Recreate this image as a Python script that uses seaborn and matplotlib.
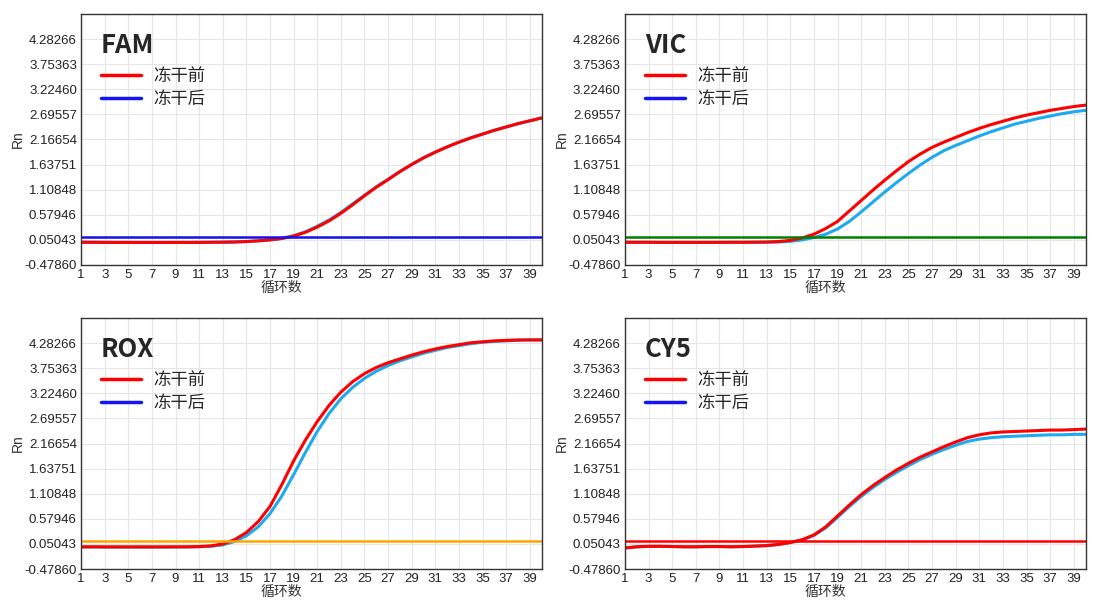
import seaborn as sns
import matplotlib.pyplot as plt
import pandas as pd
from matplotlib.lines import Line2D

# x axis: PCR cycles, y axis: Rn
cycles = list(range(1, 41))
x_ticks = list(range(1, 40, 2))
y_ticks = [-0.47860, 0.05043, 0.57946, 1.10848, 1.63751, 2.16654, 2.69557, 3.22460, 3.75363, 4.28266]
y_top = 4.81169

channels = ["FAM", "VIC", "ROX", "CY5"]
thresholds = [0.11, 0.11, 0.12, 0.12]
threshold_colors = ["#1010ee", "#008000", "#ffa500", "#ff0000"]

# 冻干前 (before freeze-drying)
fam_before = [0.0, 0.0, -0.002, -0.003, -0.003, -0.004, -0.004, -0.004, -0.003, -0.003, -0.002, 0.0, 0.002, 0.006,
              0.015, 0.03, 0.05, 0.08, 0.13, 0.21, 0.32, 0.45, 0.61, 0.79, 0.98, 1.16, 1.32, 1.49, 1.64, 1.78,
              1.90, 2.01, 2.11, 2.20, 2.28, 2.36, 2.43, 2.50, 2.56, 2.62]
vic_before = [0.0, 0.0, 0.0, -0.002, -0.002, -0.002, -0.002, -0.002, -0.001, 0.0, 0.0, 0.002, 0.005, 0.015,
              0.04, 0.09, 0.17, 0.29, 0.44, 0.66, 0.88, 1.10, 1.31, 1.51, 1.70, 1.86, 2.00, 2.11, 2.21, 2.31,
              2.40, 2.48, 2.55, 2.62, 2.68, 2.73, 2.78, 2.82, 2.86, 2.89]
rox_before = [-0.01, -0.01, -0.012, -0.012, -0.012, -0.012, -0.012, -0.012, -0.011, -0.01, -0.005, 0.01, 0.05, 0.14,
              0.29, 0.52, 0.84, 1.30, 1.80, 2.24, 2.63, 2.97, 3.25, 3.47, 3.64, 3.77, 3.87, 3.95, 4.03, 4.10,
              4.16, 4.21, 4.25, 4.29, 4.31, 4.33, 4.34, 4.35, 4.35, 4.35]
cy5_before = [-0.035, -0.01, 0.0, 0.0, -0.005, -0.01, -0.01, -0.005, -0.005, -0.01, -0.005, 0.005, 0.015, 0.04,
              0.08, 0.14, 0.24, 0.41, 0.64, 0.87, 1.09, 1.28, 1.45, 1.61, 1.75, 1.88, 1.99, 2.10, 2.20, 2.29,
              2.35, 2.39, 2.41, 2.42, 2.43, 2.44, 2.45, 2.45, 2.46, 2.47]

# 冻干后 (after freeze-drying)
fam_after = [0.0, 0.0, -0.002, -0.003, -0.003, -0.004, -0.004, -0.004, -0.003, -0.003, -0.002, 0.0, 0.002, 0.006,
             0.015, 0.03, 0.05, 0.08, 0.14, 0.22, 0.34, 0.47, 0.63, 0.81, 0.99, 1.17, 1.33, 1.49, 1.64, 1.78,
             1.90, 2.01, 2.11, 2.20, 2.28, 2.36, 2.43, 2.50, 2.56, 2.62]
vic_after = [0.0, 0.0, 0.0, -0.002, -0.002, -0.002, -0.002, -0.002, -0.001, 0.0, 0.0, 0.0, 0.002, 0.005,
             0.02, 0.05, 0.10, 0.17, 0.28, 0.44, 0.64, 0.85, 1.06, 1.26, 1.45, 1.63, 1.79, 1.93, 2.04, 2.14,
             2.24, 2.33, 2.41, 2.49, 2.55, 2.61, 2.66, 2.71, 2.75, 2.78]
rox_after = [-0.015, -0.015, -0.016, -0.016, -0.016, -0.016, -0.016, -0.016, -0.015, -0.015, -0.01, 0.0, 0.03, 0.10,
             0.22, 0.41, 0.69, 1.06, 1.51, 1.98, 2.42, 2.80, 3.11, 3.35, 3.54, 3.69, 3.81, 3.91, 3.99, 4.07,
             4.13, 4.19, 4.23, 4.27, 4.30, 4.32, 4.33, 4.34, 4.35, 4.35]
cy5_after = [-0.03, -0.01, 0.0, 0.0, -0.005, -0.01, -0.01, -0.005, -0.005, -0.01, -0.005, 0.005, 0.015, 0.04,
             0.08, 0.13, 0.23, 0.39, 0.61, 0.84, 1.05, 1.24, 1.41, 1.56, 1.70, 1.83, 1.94, 2.04, 2.13, 2.21,
             2.26, 2.29, 2.31, 2.32, 2.33, 2.34, 2.35, 2.35, 2.36, 2.36]

before = [fam_before, vic_before, rox_before, cy5_before]
after = [fam_after, vic_after, rox_after, cy5_after]

sns.set_style("white")
plt.rcParams['font.family'] = ['Liberation Sans', 'Noto Sans CJK SC', 'DejaVu Sans']

fig = plt.figure(figsize=(10.98, 6.04), dpi=100)
positions = [(0.0738, 0.5613), (0.5692, 0.5613), (0.0738, 0.0579), (0.5692, 0.0579)]
w, h = 0.4195, 0.4156

palette = {"冻干前": "#ff0000", "冻干后": "#1eaaf0"}

for i, name in enumerate(channels):
    ax = fig.add_axes([positions[i][0], positions[i][1], w, h])
    df = pd.DataFrame({
        "cycle": cycles * 2,
        "Rn": after[i] + before[i],
        "状态": ["冻干后"] * 40 + ["冻干前"] * 40,
    })
    sns.lineplot(data=df, x="cycle", y="Rn", hue="状态", hue_order=["冻干后", "冻干前"],
                 palette=palette, linewidth=2.2, legend=False, ax=ax)
    ax.axhline(thresholds[i], color=threshold_colors[i], linewidth=1.8)

    ax.set_xlim(1, 40)
    ax.set_ylim(y_ticks[0], y_top)
    ax.set_xticks(x_ticks)
    ax.set_yticks(y_ticks)
    ax.set_yticklabels([f"{v:.5f}" for v in y_ticks])
    ax.grid(True, color="#e6e6e6", linewidth=0.8)
    ax.tick_params(length=0, labelsize=9.5, labelcolor="#222222", pad=3)
    for s in ax.spines.values():
        s.set_color("#333333")
        s.set_linewidth(1.0)

    ax.set_ylabel("Rn", fontsize=10, color="#333333", labelpad=0)
    ax.set_xlabel("循环数", fontsize=10, color="#333333", family=['Noto Sans CJK SC', 'DejaVu Sans'])
    ax.xaxis.set_label_coords(0.435, -0.065)

    ax.text(0.043, 0.873, name, transform=ax.transAxes, fontsize=18.5, fontweight="heavy",
            va="center", ha="left", family=['Noto Sans CJK SC', 'DejaVu Sans'])
    handles = [Line2D([], [], color="#ff0000", linewidth=2.5),
               Line2D([], [], color="#1414f0", linewidth=2.5)]
    ax.legend(handles, ["冻干前", "冻干后"], loc="upper left", bbox_to_anchor=(0.043, 0.79),
              frameon=False, borderpad=0, borderaxespad=0, handlelength=2.3, handletextpad=0.75,
              labelspacing=0.3, prop={"family": "Noto Sans CJK SC", "size": 12.5})

fig.savefig("out.png", dpi=100, facecolor="white")
